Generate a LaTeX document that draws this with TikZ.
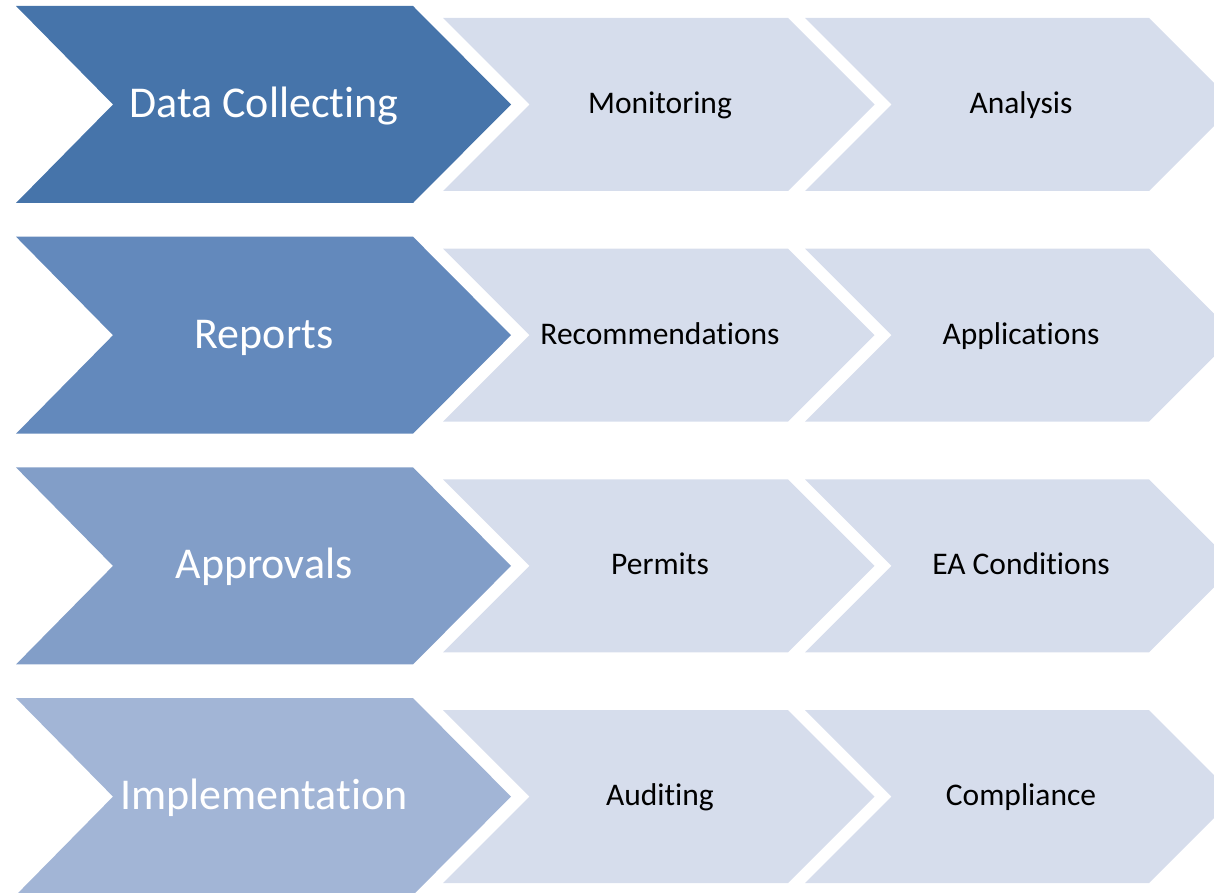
\documentclass[tikz,border=0pt]{standalone}
\usepackage{fontspec}
\setmainfont{Carlito}[Ligatures=NoCommon]
\usepackage{xcolor}
\usepackage{tikz}
\usetikzlibrary{calc}

\definecolor{stageA}{HTML}{4674AA}
\definecolor{stageB}{HTML}{6389BC}
\definecolor{stageC}{HTML}{829EC8}
\definecolor{stageD}{HTML}{A2B5D6}
\definecolor{stepfill}{HTML}{D6DDEC}

\begin{document}
\begin{tikzpicture}[x=1pt,y=-1pt]
    \tikzstyle{stage text}=[inner sep=0pt,anchor=base,text=white,font=\fontsize{44}{52}\selectfont]
    \tikzstyle{step shape}=[fill=stepfill]
    \tikzstyle{step text}=[inner sep=0pt,anchor=base,text=black,font=\fontsize{31.5}{38}\selectfont]

    \useasboundingbox (0,0) rectangle (1214,893);
    \clip (0,0) rectangle (1214,893);

	\coordinate (r1) at (0,0);
	\coordinate (r2) at (0,230.7);
	\coordinate (r3) at (0,461.4);
	\coordinate (r4) at (0,692.1);

    % Big chevrons
	\fill[stageA] ($(r1)+(16,6)$) -- ++(397,0) -- ++(98,98.5) -- ++(-98,98.5) -- ++(-397,0) -- ++(97,-98.5) -- cycle;
	\fill[stageB] ($(r2)+(16,6)$) -- ++(397,0) -- ++(98,98.5) -- ++(-98,98.5) -- ++(-397,0) -- ++(97,-98.5) -- cycle;
	\fill[stageC] ($(r3)+(16,6)$) -- ++(397,0) -- ++(98,98.5) -- ++(-98,98.5) -- ++(-397,0) -- ++(97,-98.5) -- cycle;
	\fill[stageD] ($(r4)+(16,6)$) -- ++(397,0) -- ++(98,98.5) -- ++(-98,98.5) -- ++(-397,0) -- ++(97,-98.5) -- cycle;

    % Small chevrons, first column
	\fill[style=step shape] ($(r1)+(443,18)$) -- ++(345,0) -- ++(86.5,86.5) -- ++(-86.5,86.5) -- ++(-345,0) -- ++(86.5,-86.5) -- cycle;
	\fill[style=step shape] ($(r2)+(443,18)$) -- ++(345,0) -- ++(86.5,86.5) -- ++(-86.5,86.5) -- ++(-345,0) -- ++(86.5,-86.5) -- cycle;
	\fill[style=step shape] ($(r3)+(443,18)$) -- ++(345,0) -- ++(86.5,86.5) -- ++(-86.5,86.5) -- ++(-345,0) -- ++(86.5,-86.5) -- cycle;
	\fill[style=step shape] ($(r4)+(443,18)$) -- ++(345,0) -- ++(86.5,86.5) -- ++(-86.5,86.5) -- ++(-345,0) -- ++(86.5,-86.5) -- cycle;

    % Small chevrons, second column
	\fill[style=step shape] ($(r1)+(805,18)$) -- ++(344,0) -- ++(86.5,86.5) -- ++(-86.5,86.5) -- ++(-344,0) -- ++(86.5,-86.5) -- cycle;
	\fill[style=step shape] ($(r2)+(805,18)$) -- ++(344,0) -- ++(86.5,86.5) -- ++(-86.5,86.5) -- ++(-344,0) -- ++(86.5,-86.5) -- cycle;
	\fill[style=step shape] ($(r3)+(805,18)$) -- ++(344,0) -- ++(86.5,86.5) -- ++(-86.5,86.5) -- ++(-344,0) -- ++(86.5,-86.5) -- cycle;
	\fill[style=step shape] ($(r4)+(805,18)$) -- ++(344,0) -- ++(86.5,86.5) -- ++(-86.5,86.5) -- ++(-344,0) -- ++(86.5,-86.5) -- cycle;

    % Labels
	\node[style=stage text] (collecting) at ($(r1)+(264,117.5)$) {Data Collecting};
	\node[style=stage text] (reports) at ($(r2)+(264,117.5)$) {Reports};
	\node[style=stage text] (approvals) at ($(r3)+(264,117.5)$) {Approvals};
	\node[style=stage text] (implementation) at ($(r4)+(264,117.5)$) {Implementation};

	\node[style=step text] (monitoring) at ($(r1)+(660,113.5)$) {Monitoring};
	\node[style=step text] (recommendations) at ($(r2)+(660,113.5)$) {Recommendations};
	\node[style=step text] (permits) at ($(r3)+(660,113.5)$) {Permits};
	\node[style=step text] (auditing) at ($(r4)+(660,113.5)$) {Auditing};

	\node[style=step text] (analysis) at ($(r1)+(1021,113.5)$) {Analysis};
	\node[style=step text] (applications) at ($(r2)+(1021,113.5)$) {Applications};
	\node[style=step text] (conditions) at ($(r3)+(1021,113.5)$) {EA Conditions};
	\node[style=step text] (compliance) at ($(r4)+(1021,113.5)$) {Compliance};

\end{tikzpicture}
\end{document}
